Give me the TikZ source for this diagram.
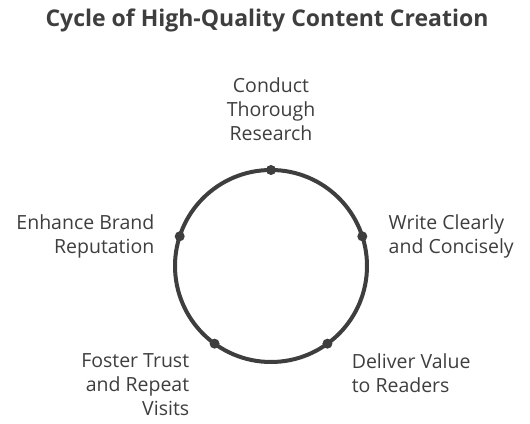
\documentclass[tikz,border=0pt]{standalone}
\usepackage{fontspec}
\setmainfont{Open Sans}
\usetikzlibrary{positioning}
\definecolor{ink}{RGB}{62,62,62}

\begin{document}
\begin{tikzpicture}[x=1pt,y=1pt,node distance=22pt,
  lbl/.style={text=ink,font=\fontsize{19.5}{24}\selectfont,inner sep=0pt},
  dot/.style={circle,fill=ink,inner sep=0pt,minimum size=10pt}]
\useasboundingbox (0,0) rectangle (530,423);
% title
\node[text=ink,font=\bfseries\fontsize{23}{26}\selectfont] (title) at (267,403)
  {Cycle of High-Quality Content Creation};
% the ring and its stages
\coordinate (c) at (271,157);
\draw[ink,line width=4pt] (c) circle (96);
\foreach \a/\n in {90/top,18/right,-54/lowright,-126/lowleft,162/left}
  \node[dot] (d\n) at ([shift={(\a:96)}]c) {};
% labels
\node[lbl,align=center,above=24pt of dtop] (research) {Conduct\\Thorough\\Research};
\node[lbl,align=left,right=21pt of dright] (write) {Write Clearly\\and Concisely};
\node[lbl,align=left,below right=6pt and 20.5pt of dlowright] (value) {Deliver Value\\to Readers};
\node[lbl,align=right,below left=6pt and 21.5pt of dlowleft] (trust) {Foster Trust\\and Repeat\\Visits};
\node[lbl,align=right,left=20pt of dleft] (brand) {Enhance Brand\\Reputation};
\end{tikzpicture}
\end{document}
